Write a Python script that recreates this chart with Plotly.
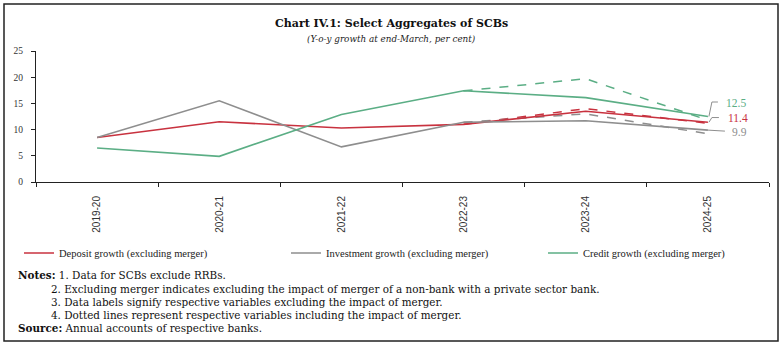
import plotly.graph_objects as go

# ---------------- data ----------------
years = ["2019-20", "2020-21", "2021-22", "2022-23", "2023-24", "2024-25"]
deposit_ex = [8.5, 11.5, 10.3, 11.0, 13.5, 11.4]
investment_ex = [8.5, 15.5, 6.7, 11.4, 11.7, 9.9]
credit_ex = [6.5, 4.9, 12.9, 17.4, 16.1, 12.5]

merger_years = ["2022-23", "2023-24", "2024-25"]
deposit_in = [11.0, 14.0, 11.2]
investment_in = [11.4, 13.0, 9.2]
credit_in = [17.4, 19.7, 11.8]

y_ticks = [0, 5, 10, 15, 20, 25]

RED = "#C8323F"
GRAY = "#8E8E8E"
GREEN = "#5BAE85"

SERIF = "Liberation Serif"
WIDE_SERIF = "DejaVu Serif"
SANS = "Liberation Sans"

# plot-area pixel geometry (for layout helpers only)
W, H = 782, 346
L, R, T, B = 36, 769, 51, 182


def px(x):
    return (x - L) / (R - L)


def py(y):
    return (B - y) / (B - T)


fig = go.Figure()

series = [
    ("Deposit growth (excluding merger)", deposit_ex, deposit_in, RED, "legend", 19),
    ("Investment growth (excluding merger)", investment_ex, investment_in, GRAY, "legend2", 286),
    ("Credit growth (excluding merger)", credit_ex, credit_in, GREEN, "legend3", 543),
]

for name, ex, inc, col, lg, lx in series:
    fig.add_trace(go.Scatter(x=merger_years, y=inc, mode="lines", showlegend=False,
                             line=dict(color=col, width=1.5, dash="dash"), hoverinfo="skip"))
for name, ex, inc, col, lg, lx in series:
    fig.add_trace(go.Scatter(x=years, y=ex, mode="lines", name=name, legend=lg,
                             line=dict(color=col, width=1.6)))

# end labels with elbow connectors
label_specs = [
    (credit_ex, GREEN, "M1,0 L4,14.5 L10,14.5", 16, 13.5),
    (deposit_ex, RED, "M1,0 L4,4.7 L11,4.7", 18, 4.5),
    (investment_ex, GRAY, "M0,0 L17,-1", 22, -2),
]
for vals, col, path, xs, ys in label_specs:
    fig.add_shape(type="path", xref="x", yref="y", xsizemode="pixel", ysizemode="pixel",
                  xanchor=years[-1], yanchor=vals[-1], path=path,
                  line=dict(color=GRAY, width=1))
    fig.add_annotation(x=years[-1], y=vals[-1], text=f"{vals[-1]:.1f}", showarrow=False,
                       xanchor="left", yanchor="middle", xshift=xs, yshift=ys,
                       font=dict(family=SERIF, size=11.5, color=col))

# title & subtitle
fig.add_annotation(xref="paper", yref="paper", x=px(391), y=py(23), text="<b>Chart IV.1: Select Aggregates of SCBs</b>",
                   showarrow=False, xanchor="center", yanchor="middle",
                   font=dict(family=WIDE_SERIF, size=11, color="#111"))
fig.add_annotation(xref="paper", yref="paper", x=px(391), y=py(39), text="<i>(Y-o-y growth at end-March, per cent)</i>",
                   showarrow=False, xanchor="center", yanchor="middle",
                   font=dict(family=WIDE_SERIF, size=8.8, color="#222"))

# notes
notes = [
    (16, 275, "<b>Notes:</b> 1. Data for SCBs exclude RRBs."),
    (49, 289, "2. Excluding merger indicates excluding the impact of merger of a non-bank with a private sector bank."),
    (49, 302, "3. Data labels signify respective variables excluding the impact of merger."),
    (49, 315, "4. Dotted lines represent respective variables including the impact of merger."),
    (16, 328, "<b>Source:</b> Annual accounts of respective banks."),
]
for x, y, t in notes:
    fig.add_annotation(xref="paper", yref="paper", x=px(x), y=py(y), text=t, showarrow=False,
                       xanchor="left", yanchor="middle", font=dict(family=WIDE_SERIF, size=10.4, color="#111"))

# outer border
fig.add_shape(type="rect", xref="paper", yref="paper", x0=px(4), x1=px(778), y0=py(341), y1=py(4),
              line=dict(color="#222", width=1.5), fillcolor="rgba(0,0,0,0)")

legend_common = dict(orientation="h", yanchor="middle", xanchor="left", y=py(253),
                     font=dict(family=SERIF, size=10.5, color="#222"), itemwidth=30,
                     bgcolor="rgba(0,0,0,0)")
layout_legends = {}
for name, ex, inc, col, lg, lx in series:
    layout_legends[lg] = dict(legend_common, x=px(lx))

fig.update_layout(
    width=W, height=H,
    margin=dict(l=L, r=W - R, t=T, b=H - B, pad=0),
    paper_bgcolor="white", plot_bgcolor="white",
    showlegend=True,
    **layout_legends,
)
fig.update_xaxes(type="category", categoryorder="array", categoryarray=years, range=[-0.5, 5.5],
                 tickson="boundaries", ticks="outside", ticklen=4, tickcolor="#222",
                 showline=True, linecolor="#222", linewidth=1, showgrid=False, zeroline=False,
                 tickangle=-90, tickfont=dict(family=SANS, size=10, color="#333"), ticklabelstandoff=9)
fig.update_yaxes(range=[0, 25], tickvals=y_ticks, ticks="outside", ticklen=4, tickcolor="#222",
                 showline=True, linecolor="#222", linewidth=1, showgrid=False, zeroline=False,
                 tickfont=dict(family=SERIF, size=9.5, color="#333"), ticklabelstandoff=6)

fig.write_html("out.html")
